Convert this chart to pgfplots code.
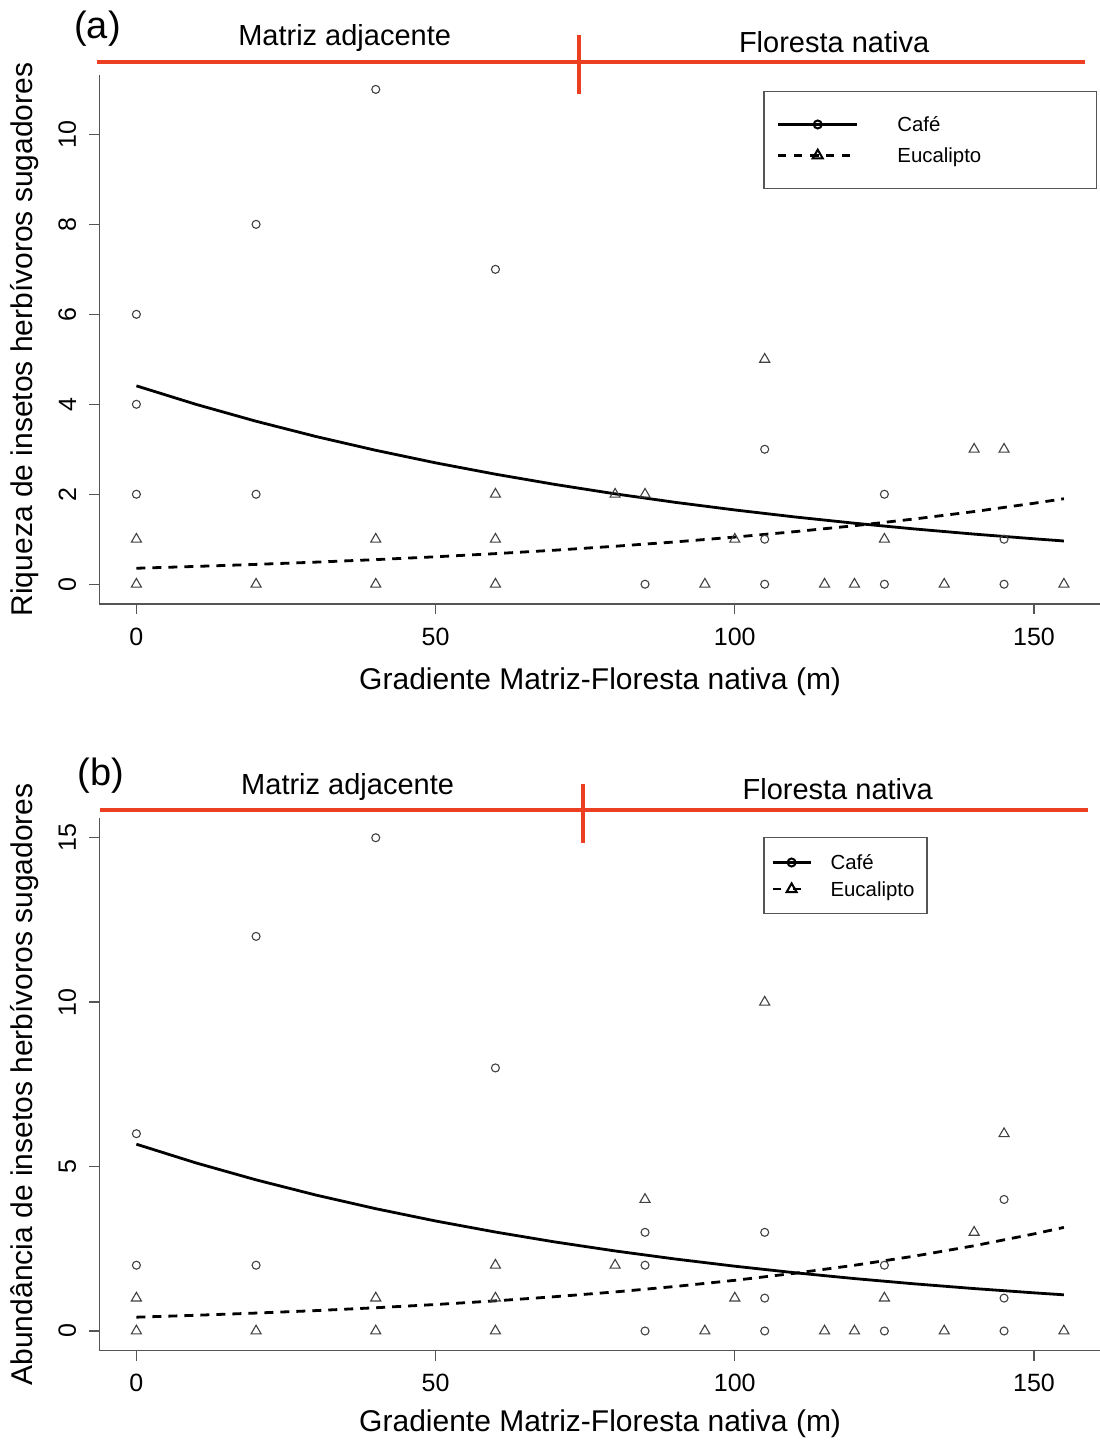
\documentclass[border=0pt]{standalone}
\usepackage{fontspec}
\setmainfont{Liberation Sans}
\usepackage{pgfplots}
\pgfplotsset{compat=1.18}

\definecolor{redline}{RGB}{236,62,32}
\definecolor{axisgray}{RGB}{85,85,85}
\definecolor{ptgray}{RGB}{65,65,65}

% 1 px of the reference = 0.5pt
\pgfplotsset{
  panel/.style={
    scale only axis, width=500.85pt,
    axis x line*=bottom, axis y line*=left,
    axis line style={axisgray, line width=0.7pt},
    every tick/.style={axisgray, line width=0.7pt},
    tick align=outside, major tick length=5pt,
    xmin=-6.2, xmax=161.2,
    xtick={0,50,100,150},
    /pgf/number format/assume math mode=true,
    ticklabel style={font=\fontsize{12.5}{14}\selectfont},
    yticklabel style={rotate=90, anchor=south},
    xticklabel shift=3.25pt, yticklabel shift=3pt,
    xlabel={Gradiente Matriz-Floresta nativa (m)},
    label style={font=\fontsize{15}{17}\selectfont},
    ylabel style={at={(axis description cs:-0.0749,0.5)}, anchor=center},
    clip=false,
    legend cell align=left,
  },
  cafe/.style={only marks, mark=o, mark size=2pt, ptgray, line width=0.55pt},
  euca/.style={only marks, mark=triangle, mark size=2.9pt, ptgray, line width=0.55pt},
  fitc/.style={black, line width=1.4pt, no marks},
  fite/.style={black, line width=1.4pt, no marks, dash pattern=on 4.5pt off 3.5pt},
}

\begin{document}
\begin{tikzpicture}
\useasboundingbox (0pt,0pt) rectangle (549.5pt,-720.5pt);

% ---------------- (a) riqueza ----------------
\begin{axis}[panel,
  at={(49.65pt,-302pt)}, anchor=south west, height=264.5pt,
  ymin=-0.44, ymax=11.32,
  ytick={0,2,4,6,8,10},
  xlabel style={at={(axis description cs:0.5,-0.146)}, anchor=center},
  ylabel={Riqueza de insetos herbívoros sugadores},
  legend image code/.code={\draw[mark repeat=2, mark phase=2, #1] plot coordinates {(0pt,0pt) (19.75pt,0pt) (39.5pt,0pt)};},
  legend style={at={(axis description cs:0.663,0.970)}, anchor=north west,
    draw=axisgray, line width=0.6pt, inner xsep=6.5pt, inner ysep=12pt,
    row sep=6.5pt, column sep=19.5pt,
    font=\fontsize{10.2}{12}\selectfont,
    nodes={inner sep=0pt, text height=6pt, text depth=3pt}},
]
\addlegendimage{black, line width=1.2pt, mark=o, mark size=2pt, mark options={solid, line width=1pt}}
\addlegendentry{\raisebox{-2.1pt}{\makebox[93pt][l]{Café}}}
\addlegendimage{black, line width=1.2pt, dash pattern=on 4pt off 4pt, mark=triangle, mark size=2.9pt, mark options={solid, line width=1pt}}
\addlegendentry{\raisebox{-2.1pt}{\makebox[93pt][l]{Eucalipto}}}

\addplot[cafe, forget plot] coordinates {
 (0,6) (0,4) (0,2) (20,8) (20,2) (40,11) (60,7) (85,0)
 (105,3) (105,1) (105,0) (125,2) (125,0) (145,1) (145,0)};
\addplot[euca, forget plot] coordinates {
 (0,1) (0,0) (20,0) (40,1) (40,0) (60,2) (60,1) (60,0) (80,2) (85,2)
 (95,0) (100,1) (105,5) (115,0) (120,0) (125,1) (135,0) (140,3) (145,3) (155,0)};
\addplot[fitc, forget plot] coordinates {
 (0,4.41) (10,3.997) (20,3.623) (30,3.284) (40,2.977) (50,2.698) (60,2.446)
 (70,2.217) (80,2.009) (90,1.821) (100,1.651) (110,1.496) (120,1.356)
 (130,1.229) (140,1.114) (150,1.010) (155,0.961)};
\addplot[fite, forget plot] coordinates {
 (0,0.355) (10,0.396) (20,0.441) (30,0.491) (40,0.547) (50,0.610) (60,0.680)
 (70,0.757) (80,0.844) (90,0.940) (100,1.048) (110,1.168) (120,1.301)
 (130,1.450) (140,1.615) (150,1.800) (155,1.90)};

\draw[redline, line width=2pt] (axis cs:-6.55,11.6) -- (axis cs:158.5,11.6);
\draw[redline, line width=2pt] (axis cs:74,12.2) -- (axis cs:74,10.9);
\node[font=\fontsize{19}{21}\selectfont] at (axis cs:-6.5,12.36) {(a)};
\node[font=\fontsize{14.5}{16}\selectfont] at (axis cs:34.8,12.14) {Matriz adjacente};
\node[font=\fontsize{14.5}{16}\selectfont] at (axis cs:116.6,12.06) {Floresta nativa};
\end{axis}

% ---------------- (b) abundancia ----------------
\begin{axis}[panel,
  at={(49.65pt,-675.35pt)}, anchor=south west, height=266.35pt,
  ymin=-0.6, ymax=15.6,
  ytick={0,5,10,15},
  xlabel style={at={(axis description cs:0.5,-0.137)}, anchor=center},
  ylabel={Abundância de insetos herbívoros sugadores},
  legend image code/.code={\draw[mark repeat=2, mark phase=2, #1] plot coordinates {(0pt,0pt) (9.5pt,0pt) (19pt,0pt)};},
  legend style={at={(axis description cs:0.663,0.9638)}, anchor=north west,
    draw=axisgray, line width=0.6pt, inner xsep=3.7pt, inner ysep=7.8pt,
    row sep=4.35pt, column sep=9.35pt,
    font=\fontsize{10.2}{12}\selectfont,
    nodes={inner sep=0pt, text height=6pt, text depth=3pt}},
]
\addlegendimage{black, line width=1.2pt, mark=o, mark size=2pt, mark options={solid, line width=1pt}}
\addlegendentry{\raisebox{-2.1pt}{\makebox[44.5pt][l]{Café}}}
\addlegendimage{black, line width=1.2pt, dash pattern=on 4pt off 6pt, mark=triangle, mark size=2.9pt, mark options={solid, line width=1pt}}
\addlegendentry{\raisebox{-2.1pt}{\makebox[44.5pt][l]{Eucalipto}}}

\addplot[cafe, forget plot] coordinates {
 (0,6) (0,2) (20,12) (20,2) (40,15) (60,8) (85,3) (85,2) (85,0)
 (105,3) (105,1) (105,0) (125,2) (125,0) (145,4) (145,1) (145,0)};
\addplot[euca, forget plot] coordinates {
 (0,1) (0,0) (20,0) (40,1) (40,0) (60,2) (60,1) (60,0) (80,2) (85,4)
 (95,0) (100,1) (105,10) (115,0) (120,0) (125,1) (135,0) (140,3) (145,6) (155,0)};
\addplot[fitc, forget plot] coordinates {
 (0,5.68) (10,5.109) (20,4.596) (30,4.134) (40,3.719) (50,3.345) (60,3.009)
 (70,2.706) (80,2.434) (90,2.190) (100,1.970) (110,1.772) (120,1.594)
 (130,1.434) (140,1.290) (150,1.160) (155,1.10)};
\addplot[fite, forget plot] coordinates {
 (0,0.42) (10,0.478) (20,0.545) (30,0.620) (40,0.707) (50,0.805) (60,0.916)
 (70,1.044) (80,1.188) (90,1.353) (100,1.541) (110,1.755) (120,1.999)
 (130,2.276) (140,2.592) (150,2.952) (155,3.15)};

\draw[redline, line width=2pt] (axis cs:-6.0,15.83) -- (axis cs:159,15.83);
\draw[redline, line width=2pt] (axis cs:74.6,16.63) -- (axis cs:74.6,14.84);
\node[font=\fontsize{19}{21}\selectfont] at (axis cs:-5.97,16.9) {(b)};
\node[font=\fontsize{14.5}{16}\selectfont] at (axis cs:35.3,16.55) {Matriz adjacente};
\node[font=\fontsize{14.5}{16}\selectfont] at (axis cs:117.2,16.49) {Floresta nativa};
\end{axis}
\end{tikzpicture}
\end{document}
